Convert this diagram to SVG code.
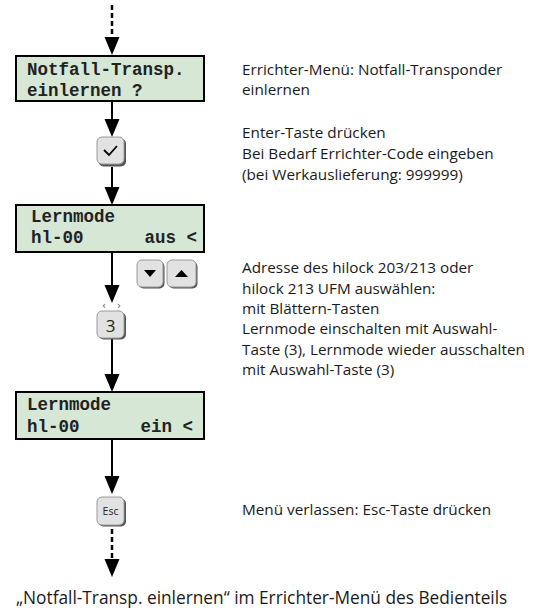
<svg xmlns="http://www.w3.org/2000/svg" width="540" height="610" viewBox="0 0 540 610">
<defs>
<style>
.lcd{fill:#d6e7d6;stroke:#000;stroke-width:2}
.lt{font-family:"Liberation Mono","Courier New",monospace;font-weight:bold;font-size:17.5px;fill:#222}
.key{fill:#e2e2e2;stroke:#9a9a9a;stroke-width:1}
.ksh{fill:#555}
.kt{font-family:"Open Sans","Noto Sans",sans-serif;fill:#222;text-anchor:middle}
.chev{font-family:"DejaVu Sans",sans-serif;fill:#555;text-anchor:middle;font-size:10px}
.desc{font-family:"Open Sans","Noto Sans",sans-serif;font-size:15.3px;fill:#1a1a1a}
.cap{font-family:"Open Sans","Noto Sans",sans-serif;font-size:17.3px;fill:#1a1a1a}
.ln{stroke:#000;stroke-width:2;fill:none}
.dash{stroke:#000;stroke-width:2.5;fill:none;stroke-dasharray:5 3}
</style>
</defs>
<g id="connectors">
<line class="dash" x1="112" y1="5" x2="112" y2="38"/>
<path d="M104.5,37 L119.5,37 L112,55 z" fill="#000"/>
<line class="ln" x1="112" y1="101" x2="112" y2="122"/>
<path d="M104.5,119 L119.5,119 L112,137 z" fill="#000"/>
<line class="ln" x1="112" y1="167" x2="112" y2="190"/>
<path d="M104.5,187 L119.5,187 L112,205 z" fill="#000"/>
<line class="ln" x1="112" y1="252" x2="112" y2="288"/>
<path d="M104.5,285 L119.5,285 L112,303 z" fill="#000"/>
<line class="ln" x1="112" y1="339" x2="112" y2="377"/>
<path d="M104.5,374 L119.5,374 L112,392 z" fill="#000"/>
<line class="ln" x1="112" y1="439" x2="112" y2="479"/>
<path d="M104.5,476 L119.5,476 L112,494 z" fill="#000"/>
<line class="dash" x1="112" y1="529" x2="112" y2="559"/>
<path d="M104.5,559 L119.5,559 L112,577 z" fill="#000"/>
</g>
<g id="lcd1">
<rect class="lcd" x="16" y="56" width="188" height="45"/>
<text class="lt" x="27" y="75">Notfall-Transp.</text>
<text class="lt" x="27" y="96">einlernen ?</text>
</g>
<g id="key-enter">
<rect class="ksh" x="98.5" y="138.5" width="27.5" height="28" rx="5"/>
<rect class="key" x="97" y="137" width="27" height="27" rx="5"/>
<path d="M104,150 L109,155 L117,146" stroke="#000" stroke-width="1.8" fill="none"/>
</g>
<g id="lcd2">
<rect class="lcd" x="16" y="205" width="188" height="47"/>
<text class="lt" x="31" y="222">Lernmode</text>
<text class="lt" x="31" y="243">hl-00</text>
<text class="lt" x="197" y="243" text-anchor="end">aus &lt;</text>
</g>
<g id="key-down">
<rect class="ksh" x="138.5" y="261.5" width="26" height="27" rx="5"/>
<rect class="key" x="137" y="260" width="26" height="27" rx="5"/>
<path d="M144,270 L156,270 L150,277 z" fill="#000"/>
</g>
<g id="key-up">
<rect class="ksh" x="168.5" y="261.5" width="29" height="27" rx="5"/>
<rect class="key" x="167" y="260" width="29" height="27" rx="5"/>
<path d="M175,277 L188,277 L181.5,270 z" fill="#000"/>
</g>
<g id="key-3">
<text class="chev" x="104" y="309">‹</text>
<text class="chev" x="119" y="309">›</text>
<rect class="ksh" x="98.5" y="312.5" width="27.5" height="27" rx="5"/>
<rect class="key" x="97" y="311" width="27" height="27" rx="5"/>
<text class="kt" x="110.5" y="331.5" font-size="17">3</text>
</g>
<g id="lcd3">
<rect class="lcd" x="16" y="392" width="188" height="47"/>
<text class="lt" x="27" y="410">Lernmode</text>
<text class="lt" x="27" y="432">hl-00</text>
<text class="lt" x="193" y="432" text-anchor="end">ein &lt;</text>
</g>
<g id="key-esc">
<rect class="ksh" x="98.5" y="498.5" width="27.5" height="28" rx="5"/>
<rect class="key" x="97" y="497" width="27" height="28" rx="5"/>
<text class="kt" x="110.5" y="515" font-size="10.5">Esc</text>
</g>
<g id="desc1">
<text class="desc" x="242" y="75">Errichter-Menü: Notfall-Transponder</text>
<text class="desc" x="242" y="95">einlernen</text>
</g>
<g id="desc2">
<text class="desc" x="242" y="138">Enter-Taste drücken</text>
<text class="desc" x="242" y="159">Bei Bedarf Errichter-Code eingeben</text>
<text class="desc" x="242" y="180">(bei Werkauslieferung: 999999)</text>
</g>
<g id="desc3">
<text class="desc" x="242" y="273">Adresse des hilock 203/213 oder</text>
<text class="desc" x="242" y="294">hilock 213 UFM auswählen:</text>
<text class="desc" x="242" y="314">mit Blättern-Tasten</text>
<text class="desc" x="242" y="334">Lernmode einschalten mit Auswahl-</text>
<text class="desc" x="242" y="355">Taste (3), Lernmode wieder ausschalten</text>
<text class="desc" x="242" y="375">mit Auswahl-Taste (3)</text>
</g>
<g id="desc4">
<text class="desc" x="242" y="515">Menü verlassen: Esc-Taste drücken</text>
</g>
<g id="caption">
<text class="cap" x="16" y="604">„Notfall-Transp. einlernen“ im Errichter-Menü des Bedienteils</text>
</g>
</svg>
